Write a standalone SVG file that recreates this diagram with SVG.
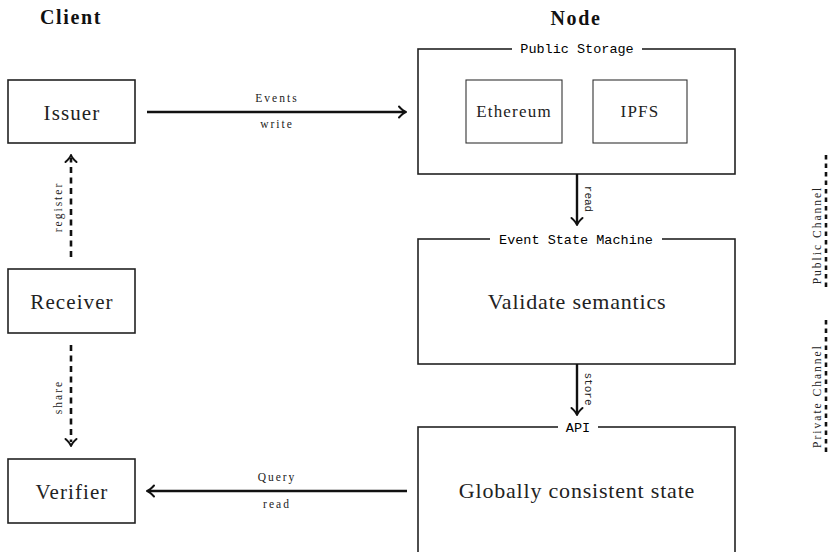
<svg xmlns="http://www.w3.org/2000/svg" width="833" height="552" viewBox="0 0 833 552">
  <defs>
    <style>
      .box { fill: #fff; stroke: #222; stroke-width: 1.6; }
      .inner { fill: #fff; stroke: #333; stroke-width: 1.1; }
      .title { font-family: "Liberation Serif", "DejaVu Serif", serif; font-weight: bold; font-size: 20px; letter-spacing: 1.6px; fill: #111; text-anchor: middle; }
      .lbl { font-family: "Liberation Serif", "DejaVu Serif", serif; font-size: 21px; letter-spacing: 1.1px; fill: #222; text-anchor: middle; }
      .big { font-family: "Liberation Serif", "DejaVu Serif", serif; font-size: 22px; letter-spacing: 0.8px; fill: #222; text-anchor: middle; }
      .sm { font-family: "Liberation Serif", "DejaVu Serif", serif; font-size: 17px; letter-spacing: 1.2px; fill: #222; text-anchor: middle; }
      .mono { font-family: "Liberation Mono", "DejaVu Sans Mono", monospace; font-size: 13.5px; fill: #000; text-anchor: middle; }
      .tiny { font-family: "Liberation Serif", "DejaVu Serif", serif; font-size: 11.5px; letter-spacing: 2px; fill: #222; text-anchor: middle; }
      .tmono { font-family: "Liberation Mono", "DejaVu Sans Mono", monospace; font-size: 11px; fill: #222; text-anchor: middle; }
      .edge { fill: none; stroke: #111; stroke-width: 2.4; }
      .dash { fill: none; stroke: #111; stroke-width: 2.6; stroke-dasharray: 6 4.5; }
      .head { fill: none; stroke: #111; stroke-width: 2; stroke-linecap: round; stroke-linejoin: round; }
      .chan { fill: none; stroke: #111; stroke-width: 2.6; stroke-dasharray: 4.5 4; }
    </style>
  </defs>

  <rect width="833" height="552" fill="#fff"/>

  <!-- column headings -->
  <text class="title" x="71" y="24">Client</text>
  <text class="title" x="576" y="25">Node</text>

  <!-- client side nodes -->
  <g id="issuer">
    <rect class="box" x="8" y="80" width="127" height="63"/>
    <text class="lbl" x="72" y="120">Issuer</text>
  </g>
  <g id="receiver">
    <rect class="box" x="8" y="269" width="127" height="64"/>
    <text class="lbl" x="72" y="309">Receiver</text>
  </g>
  <g id="verifier">
    <rect class="box" x="8" y="459" width="127" height="64"/>
    <text class="lbl" x="72" y="499">Verifier</text>
  </g>

  <!-- node side containers -->
  <g id="public-storage">
    <rect class="box" x="418" y="49" width="317" height="125"/>
    <rect x="512" y="42" width="130" height="14" fill="#fff"/>
    <text class="mono" x="577" y="53">Public Storage</text>
    <g id="ethereum">
      <rect class="inner" x="466" y="80" width="96" height="63"/>
      <text class="sm" x="514" y="117">Ethereum</text>
    </g>
    <g id="ipfs">
      <rect class="inner" x="593" y="80" width="94" height="63"/>
      <text class="sm" x="640" y="117">IPFS</text>
    </g>
  </g>

  <g id="event-state-machine">
    <rect class="box" x="418" y="239" width="317" height="125"/>
    <rect x="490" y="232" width="172" height="14" fill="#fff"/>
    <text class="mono" x="576" y="243.5">Event State Machine</text>
    <text class="big" x="577" y="309">Validate semantics</text>
  </g>

  <g id="api">
    <rect class="box" x="418" y="427" width="317" height="140"/>
    <rect x="558" y="420" width="40" height="14" fill="#fff"/>
    <text class="mono" x="578" y="431.5">API</text>
    <text class="big" x="577" y="498">Globally consistent state</text>
  </g>

  <!-- connectors -->
  <g id="connectors">
    <!-- Issuer -> Public Storage -->
    <line class="edge" x1="147" y1="112" x2="405" y2="112"/>
    <path class="head" d="M399,106.5 Q403,111 406,112 Q403,113 399,117.5"/>
    <text class="tiny" x="277" y="102">Events</text>
    <text class="tiny" x="277" y="128">write</text>

    <!-- Public Storage -> Event State Machine -->
    <line class="edge" x1="577" y1="174" x2="577" y2="224"/>
    <path class="head" d="M571.5,218 Q576,222 577,225 Q578,222 582.5,218"/>
    <text class="tmono" transform="translate(585,199) rotate(90)">read</text>

    <!-- Event State Machine -> API -->
    <line class="edge" x1="577" y1="364" x2="577" y2="414"/>
    <path class="head" d="M571.5,408 Q576,412 577,415 Q578,412 582.5,408"/>
    <text class="tmono" transform="translate(585,389) rotate(90)">store</text>

    <!-- API -> Verifier -->
    <line class="edge" x1="407" y1="491" x2="148" y2="491"/>
    <path class="head" d="M154,485.5 Q150,490 147,491 Q150,492 154,496.5"/>
    <text class="tiny" x="277" y="481">Query</text>
    <text class="tiny" x="277" y="508">read</text>

    <!-- Receiver -> Issuer (register) -->
    <line class="dash" x1="71" y1="257" x2="71" y2="158"/>
    <path class="head" d="M65.5,162 Q70,158 71,155 Q72,158 76.5,162"/>
    <text class="tiny" transform="translate(62,207) rotate(-90)">register</text>

    <!-- Receiver -> Verifier (share) -->
    <line class="dash" x1="71" y1="345" x2="71" y2="442"/>
    <path class="head" d="M65.5,439 Q70,443 71,446 Q72,443 76.5,439"/>
    <text class="tiny" transform="translate(62,397) rotate(-90)">share</text>
  </g>

  <!-- channel legend -->
  <g id="public-channel">
    <line class="chan" x1="826" y1="155" x2="826" y2="287"/>
    <text class="tiny" transform="translate(821,235) rotate(-90)">Public Channel</text>
  </g>
  <g id="private-channel">
    <line class="chan" x1="826" y1="320" x2="826" y2="452"/>
    <text class="tiny" transform="translate(821,396) rotate(-90)">Private Channel</text>
  </g>
</svg>
